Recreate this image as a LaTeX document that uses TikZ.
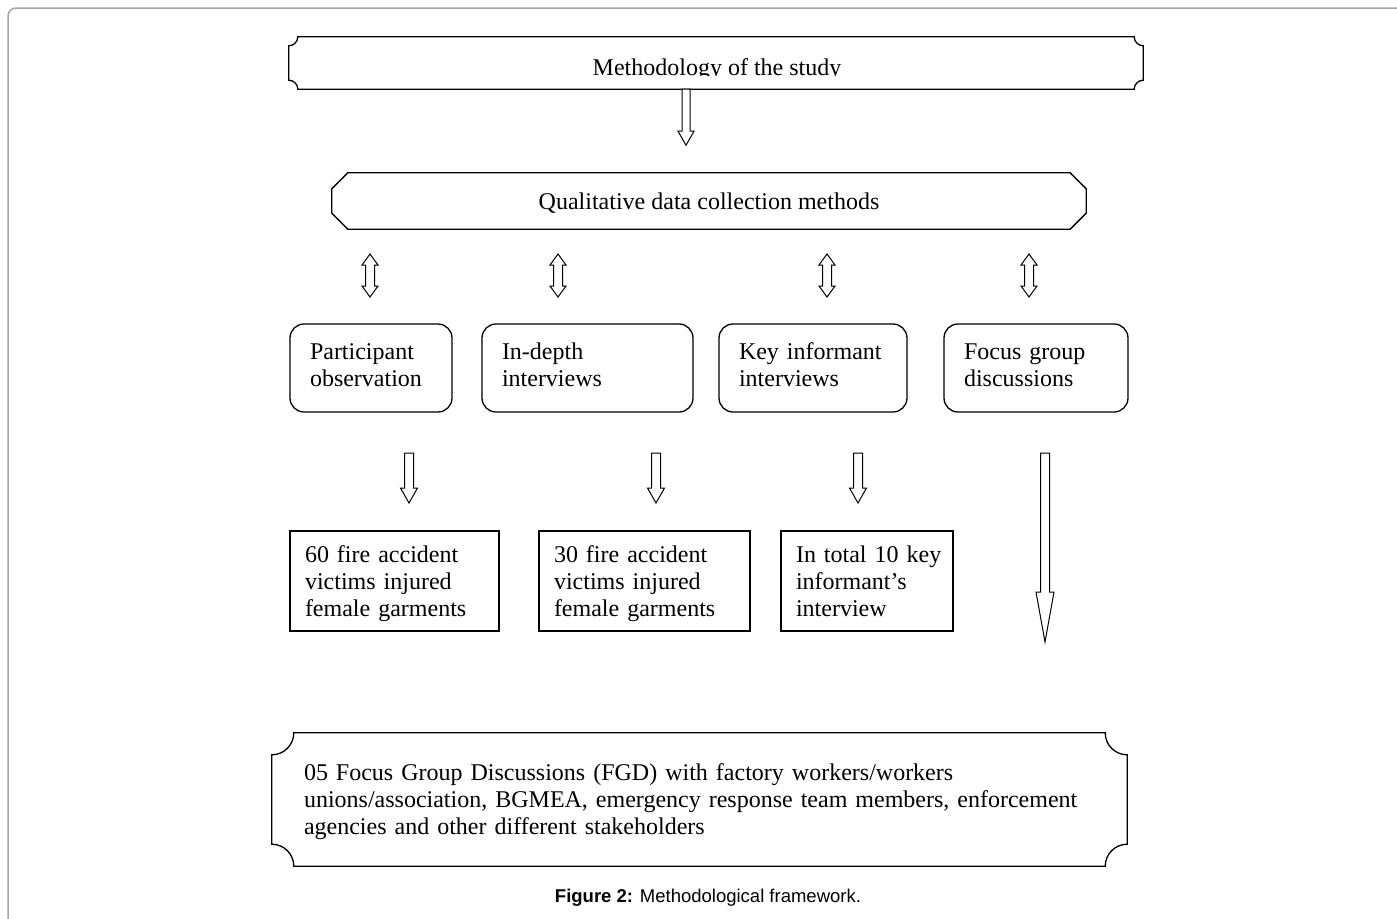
\documentclass[tikz,border=0pt]{standalone}
\usepackage{fontspec}
\setmainfont{Liberation Serif}
\newfontfamily\capfont{Liberation Sans}
\newcommand\plaquepath[2]{%
  \draw[boxline] ([xshift=#2pt]#1.north west) -- ([xshift=-#2pt]#1.north east)
    arc[start angle=180,end angle=90,radius=#2]
    -- ([yshift=#2pt]#1.south east)
    arc[start angle=270,end angle=180,radius=#2]
    -- ([xshift=#2pt]#1.south west)
    arc[start angle=0,end angle=-90,radius=#2]
    -- ([yshift=-#2pt]#1.north west)
    arc[start angle=90,end angle=0,radius=#2] -- cycle;}
\newcommand\lastln[2]{\raisebox{0pt}[\height][#1]{#2}}
\tikzset{
  boxline/.style={line width=1.3pt, draw=black},
  txt/.style={font=\fontsize{24}{27}\selectfont},
  rbox/.style={txt, boxline, rounded corners=14pt, inner xsep=20pt, inner ysep=0pt, align=left, minimum height=88pt},
  sbox/.style={txt, boxline, inner xsep=15pt, inner ysep=0pt, align=left, minimum height=100pt},
  arrowline/.style={line width=1pt, draw=black, fill=white},
  pics/hdown/.style n args={5}{code={%
    \draw[arrowline] (-#2,0) -- (#2,0) -- (#2,#1-#4) -- (#3,#1-#4) -- (0,#1) -- (-#3,#1-#4) -- (-#2,#1-#4) -- cycle;}},
  pics/hdouble/.style n args={4}{code={%
    \draw[arrowline] (0,0) -- (#3,#4) -- (#2,#4) -- (#2,#1-#4) -- (#3,#1-#4) -- (0,#1) -- (-#3,#1-#4) -- (-#2,#1-#4) -- (-#2,#4) -- (-#3,#4) -- cycle;}}
}
\begin{document}
\begin{tikzpicture}[x=1pt,y=-1pt]
\useasboundingbox (0,0) rectangle (1397,918);
% outer frame
\draw[line width=1.5pt, draw=black!35, rounded corners=8pt] (8,930) -- (8,8) -- (1410,8);

% top plaque
\node[minimum width=854pt, minimum height=52pt, inner sep=0pt] (top) at (716,63) {};
\plaquepath{top}{9}
\begin{scope}
  \clip (289,37) rectangle (1143,75);
  \node[txt, anchor=base, inner sep=0pt] (toptext) at (717,75) {Methodology of the study};
\end{scope}

% arrow from top plaque
\pic at ([xshift=-30pt]top.south) {hdown={56}{4}{8}{14}{}};

% qualitative octagon
\node[txt, minimum width=754pt, minimum height=56pt, inner sep=0pt, text depth=0pt] (qual) at (709,201) {Qualitative data collection methods};
\draw[boxline] ([xshift=16pt]qual.north west) -- ([xshift=-16pt]qual.north east)
  -- ([yshift=-16pt]qual.north east) -- ([yshift=16pt]qual.south east)
  -- ([xshift=-16pt]qual.south east) -- ([xshift=16pt]qual.south west)
  -- ([yshift=16pt]qual.south west) -- ([yshift=-16pt]qual.north west) -- cycle;

% method boxes
\node[rbox, minimum width=162pt, text width=122pt] (m1) at (371,368) {Participant\\\lastln{6pt}{observation}};
\node[rbox, minimum width=211pt, text width=171pt] (m2) at (587.5,368) {In-depth\\\lastln{6pt}{interviews}};
\node[rbox, minimum width=188pt, text width=148pt] (m3) at (813,368) {Key informant\\\lastln{6pt}{interviews}};
\node[rbox, minimum width=184pt, text width=144pt] (m4) at (1036,368) {Focus group\\\lastln{6pt}{discussions}};

% double arrows
\pic at (370,254) {hdouble={43}{4.5}{8}{11}};
\pic at (558,254) {hdouble={43}{4.5}{8}{11}};
\pic at (827,254) {hdouble={43}{4.5}{8}{11}};
\pic at (1029,254) {hdouble={43}{4.5}{8}{11}};

% down arrows
\pic at (409,453) {hdown={50}{4.5}{8.5}{15}{}};
\pic at (656,453) {hdown={50}{4.5}{8.5}{15}{}};
\pic at (858,453) {hdown={50}{4.5}{8.5}{15}{}};
\pic at (1045,453) {hdown={189}{4.5}{9}{50}{}};

% result boxes
\node[sbox, minimum width=209pt, text width=179pt] (r1) at (394.5,581) {\mbox{60 fire accident}\\\mbox{victims injured}\\\lastln{0pt}{female garments}};
\node[sbox, minimum width=211pt, text width=181pt] (r2) at (644.5,581) {\mbox{30 fire accident}\\\mbox{victims injured}\\\lastln{0pt}{female garments}};
\node[sbox, minimum width=172pt, text width=142pt] (r3) at (867,581) {\mbox{In total 10 key}\\\mbox{informant’s}\\\lastln{0pt}{interview}};

% bottom plaque
\node[txt, minimum width=855pt, minimum height=133pt, inner xsep=32pt, inner ysep=0pt, text width=791pt, align=left] (fgd) at (699.5,799.5)
  {\mbox{05 Focus Group Discussions (FGD) with factory workers/workers}\\\mbox{unions/association, BGMEA, emergency response team members, enforcement}\\\lastln{0pt}{agencies and other different stakeholders}};
\plaquepath{fgd}{22}

% caption
\node[font=\capfont\fontsize{18.5}{22}\selectfont, inner sep=0pt] (cap) at (708,898) {\textbf{Figure 2:} Methodological framework.};
\end{tikzpicture}
\end{document}
